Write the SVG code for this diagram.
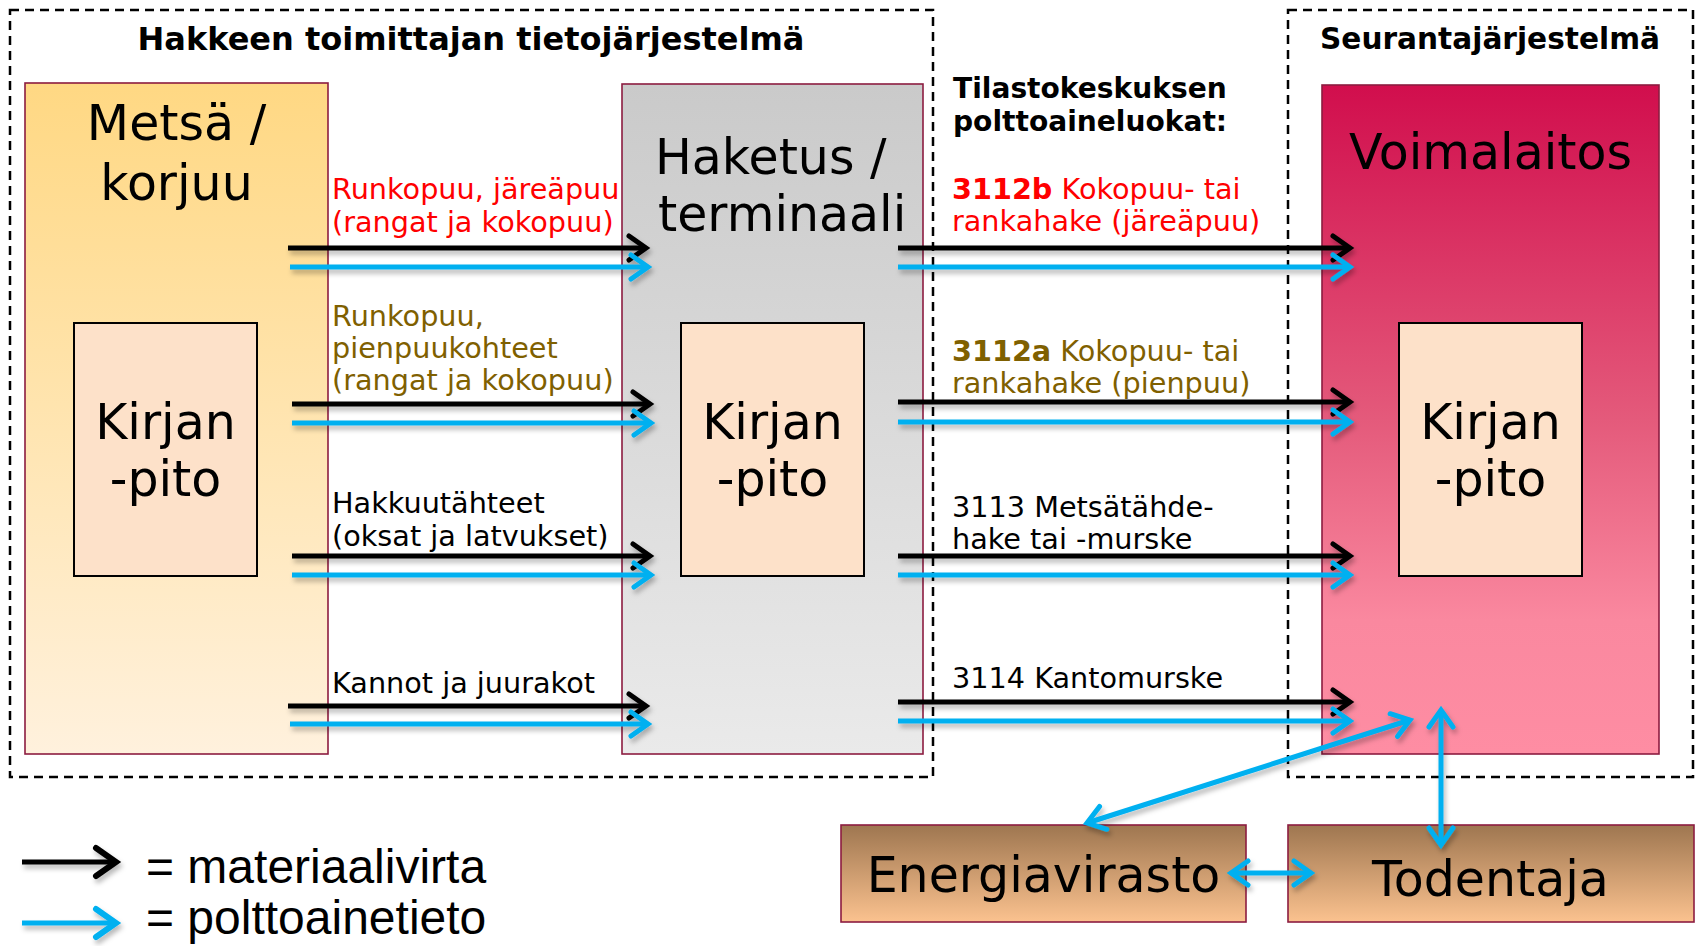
<svg xmlns="http://www.w3.org/2000/svg" width="1696" height="946" viewBox="0 0 1696 946">
<style>
.dash{fill:none;stroke:#000;stroke-width:2.5;stroke-dasharray:9 6}
.box{stroke:#8C1C40;stroke-width:1.6}
.kp{fill:#FDE1C9;stroke:#000;stroke-width:2}
.big{font-family:"DejaVu Sans",Verdana,sans-serif;font-size:49px;fill:#000}
.ttl{font-family:"DejaVu Sans",Verdana,sans-serif;font-weight:bold;fill:#000}
.lbl{font-family:"DejaVu Sans",Verdana,sans-serif;font-size:28.7px}
.red{fill:#FF0000}
.olv{fill:#7F6000}
.blk{fill:#000}
.leg{font-family:"Liberation Sans",Arial,sans-serif;font-size:48px;fill:#000}
.ka{stroke:#000;stroke-width:5;fill:none}
.ba{stroke:#00B0F0;stroke-width:5;fill:none}
</style>
<defs>
<linearGradient id="gM" x1="0" y1="0" x2="0" y2="1"><stop offset="0" stop-color="#FFD883"/><stop offset="1" stop-color="#FFF1DD"/></linearGradient>
<linearGradient id="gH" x1="0" y1="0" x2="0" y2="1"><stop offset="0" stop-color="#CACACA"/><stop offset="1" stop-color="#EAEAEA"/></linearGradient>
<linearGradient id="gV" x1="0" y1="0" x2="0" y2="1"><stop offset="0" stop-color="#D10E4D"/><stop offset="0.5" stop-color="#E45A7B"/><stop offset="0.8" stop-color="#FA889F"/><stop offset="1" stop-color="#FE8DA3"/></linearGradient>
<linearGradient id="gE" x1="0" y1="0" x2="0" y2="1"><stop offset="0" stop-color="#9E7650"/><stop offset="1" stop-color="#FBC28F"/></linearGradient>
<filter id="sh" filterUnits="userSpaceOnUse" x="0" y="0" width="1696" height="946"><feDropShadow dx="2" dy="4" stdDeviation="2.5" flood-color="#000" flood-opacity="0.28"/></filter>
<marker id="mk" viewBox="-24 -18 32 36" refX="0" refY="0" markerWidth="32" markerHeight="36" markerUnits="userSpaceOnUse" orient="auto-start-reverse"><path d="M-17,-12 L0,0 L-17,12" fill="none" stroke="#000" stroke-width="5" stroke-linecap="round"/></marker>
<marker id="mb" viewBox="-24 -18 32 36" refX="0" refY="0" markerWidth="32" markerHeight="36" markerUnits="userSpaceOnUse" orient="auto-start-reverse"><path d="M-17,-12 L0,0 L-17,12" fill="none" stroke="#00B0F0" stroke-width="5" stroke-linecap="round"/></marker>
<marker id="mkL" viewBox="-28 -20 38 40" refX="0" refY="0" markerWidth="38" markerHeight="40" markerUnits="userSpaceOnUse" orient="auto-start-reverse"><path d="M-20,-14 L0,0 L-20,14" fill="none" stroke="#000" stroke-width="6" stroke-linecap="round"/></marker>
<marker id="mbL" viewBox="-28 -20 38 40" refX="0" refY="0" markerWidth="38" markerHeight="40" markerUnits="userSpaceOnUse" orient="auto-start-reverse"><path d="M-20,-14 L0,0 L-20,14" fill="none" stroke="#00B0F0" stroke-width="6" stroke-linecap="round"/></marker>
</defs>
<rect width="1696" height="946" fill="#fff"/>

<g id="system-supplier">
<rect class="dash" x="10" y="10" width="923" height="767"/>
<text class="ttl" x="471" y="50" font-size="32" text-anchor="middle">Hakkeen toimittajan tietojärjestelmä</text>
</g>
<g id="system-monitoring">
<rect class="dash" x="1288" y="10" width="405" height="767"/>
<text class="ttl" x="1490" y="49" font-size="29.6" text-anchor="middle">Seurantajärjestelmä</text>
</g>

<g id="node-metsa">
<rect class="box" x="25" y="83" width="303" height="671" fill="url(#gM)"/>
<text class="big" x="176.5" y="140" text-anchor="middle">Metsä /</text>
<text class="big" x="176.5" y="200" text-anchor="middle">korjuu</text>
<rect class="kp" x="74" y="323" width="183" height="253"/>
<text class="big" x="165.5" y="439" text-anchor="middle">Kirjan</text>
<text class="big" x="165.5" y="496" text-anchor="middle">-pito</text>
</g>

<g id="node-haketus">
<rect class="box" x="622" y="84" width="301" height="670" fill="url(#gH)"/>
<text class="big" x="655" y="174">Haketus /</text>
<text class="big" x="658" y="231">terminaali</text>
<rect class="kp" x="681" y="323" width="183" height="253"/>
<text class="big" x="772.5" y="439" text-anchor="middle">Kirjan</text>
<text class="big" x="772.5" y="496" text-anchor="middle">-pito</text>
</g>

<g id="node-voimalaitos">
<rect class="box" x="1322" y="85" width="337" height="669" fill="url(#gV)"/>
<text class="big" x="1490.5" y="169" text-anchor="middle" font-size="47.4">Voimalaitos</text>
<rect class="kp" x="1399" y="323" width="183" height="253"/>
<text class="big" x="1490.5" y="439" text-anchor="middle">Kirjan</text>
<text class="big" x="1490.5" y="496" text-anchor="middle">-pito</text>
</g>

<g id="node-energiavirasto">
<rect class="box" x="841" y="825" width="405" height="97" fill="url(#gE)"/>
<text class="big" x="1043.5" y="892" text-anchor="middle" font-size="45.8">Energiavirasto</text>
</g>
<g id="node-todentaja">
<rect class="box" x="1288" y="825" width="406" height="97" fill="url(#gE)"/>
<text class="big" x="1490.5" y="896" text-anchor="middle" font-size="47.2">Todentaja</text>
</g>

<g id="labels-left" class="lbl">
<text class="red" x="332" y="199">Runkopuu, järeäpuu</text>
<text class="red" x="332" y="232">(rangat ja kokopuu)</text>
<text class="olv" x="332" y="326">Runkopuu,</text>
<text class="olv" x="332" y="358">pienpuukohteet</text>
<text class="olv" x="332" y="390">(rangat ja kokopuu)</text>
<text class="blk" x="332" y="513">Hakkuutähteet</text>
<text class="blk" x="332" y="546">(oksat ja latvukset)</text>
<text class="blk" x="332" y="693">Kannot ja juurakot</text>
</g>

<g id="labels-right" class="lbl">
<text class="ttl" x="953" y="98" font-size="28.1">Tilastokeskuksen</text>
<text class="ttl" x="953" y="131" font-size="28.1">polttoaineluokat:</text>
<text class="red" x="952" y="199"><tspan font-weight="bold">3112b</tspan> Kokopuu- tai</text>
<text class="red" x="952" y="231">rankahake (järeäpuu)</text>
<text class="olv" x="952" y="361"><tspan font-weight="bold">3112a</tspan> Kokopuu- tai</text>
<text class="olv" x="952" y="393">rankahake (pienpuu)</text>
<text class="blk" x="952" y="517">3113 Metsätähde-</text>
<text class="blk" x="952" y="549">hake tai -murske</text>
<text class="blk" x="952" y="688">3114 Kantomurske</text>
</g>

<g id="connectors" filter="url(#sh)">
<line class="ka" x1="288" y1="248" x2="646" y2="248" marker-end="url(#mk)"/>
<line class="ba" x1="290" y1="267" x2="648" y2="267" marker-end="url(#mb)"/>
<line class="ka" x1="292" y1="404" x2="650" y2="404" marker-end="url(#mk)"/>
<line class="ba" x1="292" y1="423" x2="651" y2="423" marker-end="url(#mb)"/>
<line class="ka" x1="292" y1="556" x2="650" y2="556" marker-end="url(#mk)"/>
<line class="ba" x1="292" y1="575" x2="651" y2="575" marker-end="url(#mb)"/>
<line class="ka" x1="288" y1="706" x2="646" y2="706" marker-end="url(#mk)"/>
<line class="ba" x1="290" y1="724" x2="648" y2="724" marker-end="url(#mb)"/>

<line class="ka" x1="898" y1="248" x2="1350" y2="248" marker-end="url(#mk)"/>
<line class="ba" x1="898" y1="267" x2="1350" y2="267" marker-end="url(#mb)"/>
<line class="ka" x1="898" y1="402" x2="1350" y2="402" marker-end="url(#mk)"/>
<line class="ba" x1="898" y1="422" x2="1350" y2="422" marker-end="url(#mb)"/>
<line class="ka" x1="898" y1="556" x2="1350" y2="556" marker-end="url(#mk)"/>
<line class="ba" x1="898" y1="575" x2="1350" y2="575" marker-end="url(#mb)"/>
<line class="ka" x1="898" y1="702" x2="1350" y2="702" marker-end="url(#mk)"/>
<line class="ba" x1="898" y1="721" x2="1350" y2="721" marker-end="url(#mb)"/>

<line class="ba" x1="1087" y1="823" x2="1410" y2="720" marker-start="url(#mb)" marker-end="url(#mb)"/>
<line class="ba" x1="1441" y1="845" x2="1441" y2="710" marker-start="url(#mb)" marker-end="url(#mb)"/>
<line class="ba" stroke-width="6" x1="1231" y1="873" x2="1311" y2="873" marker-start="url(#mb)" marker-end="url(#mb)"/>
</g>

<g id="legend">
<g filter="url(#sh)">
<line class="ka" stroke-width="6" x1="22" y1="862" x2="116" y2="862" marker-end="url(#mkL)"/>
<line class="ba" stroke-width="6" x1="22" y1="923" x2="116" y2="923" marker-end="url(#mbL)"/>
</g>
<text class="leg" x="146" y="883">= materiaalivirta</text>
<text class="leg" x="146" y="934">= polttoainetieto</text>
</g>
</svg>
